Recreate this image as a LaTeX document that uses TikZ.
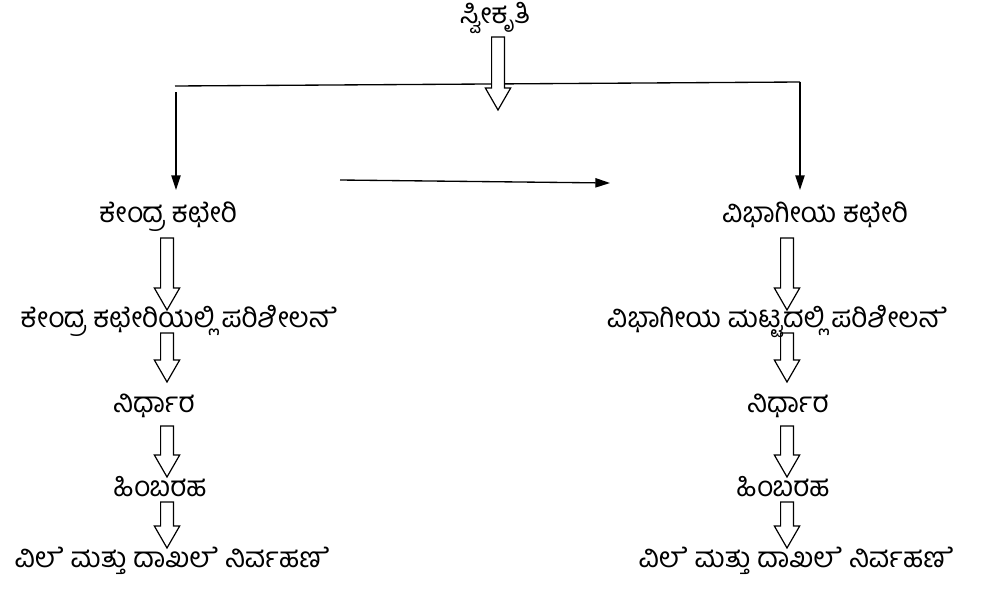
\documentclass[tikz,border=0pt]{standalone}
\usepackage{fontspec}
\newfontfamily\kanfont[Script=Kannada]{Hind Mysuru}
\newfontfamily\kanefont[Script=Kannada,RawFeature=-pres]{Hind Mysuru}
\newcommand\esyl[1]{{\kanefont #1}}
\usetikzlibrary{arrows.meta,calc}
\tikzset{
  lbl/.style={font=\kanfont\fontsize{21}{24}\selectfont, inner sep=0pt, anchor=center},
  thin/.style={line width=1pt, -{Triangle[length=11pt,width=7pt]}},
  plain/.style={line width=1pt},
  fat/.style={line width=0.9pt, draw=black, fill=white},
}
\newcommand\fatarr[2]{%
  \path[fat] let \p1=(#1), \p2=(#2) in
    (\x1-4.8pt,\y1) -- (\x1-4.8pt,\y2+16.5pt) -- (\x1-9.5pt,\y2+16.5pt) -- (\x1,\y2)
    -- (\x1+9.5pt,\y2+16.5pt) -- (\x1+4.8pt,\y2+16.5pt) -- (\x1+4.8pt,\y1) -- cycle;}
\begin{document}
\begin{tikzpicture}[x=0.75pt,y=-0.75pt]
\useasboundingbox (0,0) rectangle (991,589);
% thin connector lines
\coordinate (hl) at (175,86);
\coordinate (hr) at (800,82);
\coordinate (ld) at (176,92);
\coordinate (le) at (176,190);
\coordinate (re) at (800,190);
\coordinate (ms) at (340,180);
\coordinate (me) at (610,183);
\draw[plain] (hl) -- (hr);
\draw[thin] (hr) -- (re);
\draw[thin] (ld) -- (le);
\draw[thin] (ms) -- (me);
% fat arrow coordinates
\coordinate (t0) at (498,37);   \coordinate (h0) at (498,110);
\coordinate (l1) at (167,238);  \coordinate (l1e) at (167,310);
\coordinate (l2) at (167,333);  \coordinate (l2e) at (167,382);
\coordinate (l3) at (167,426);  \coordinate (l3e) at (167,477);
\coordinate (l4) at (167,502);  \coordinate (l4e) at (167,548);
\coordinate (r1) at (787,238);  \coordinate (r1e) at (787,310);
\coordinate (r2) at (787,333);  \coordinate (r2e) at (787,382);
\coordinate (r3) at (787,426);  \coordinate (r3e) at (787,477);
\coordinate (r4) at (787,502);  \coordinate (r4e) at (787,548);
\fatarr{t0}{h0}
\fatarr{l1}{l1e}\fatarr{l2}{l2e}\fatarr{l3}{l3e}\fatarr{l4}{l4e}
\fatarr{r1}{r1e}\fatarr{r2}{r2e}\fatarr{r3}{r3e}\fatarr{r4}{r4e}
% text nodes
\node[lbl] (top) at (495,18) {ಸ್ವೀಕೃತಿ};
\node[lbl] (k1) at (168,217) {ಕೇಂದ್ರ ಕಛೇರಿ};
\node[lbl] (k2) at (179,321) {ಕೇಂದ್ರ ಕಛೇರಿಯಲ್ಲಿ ಪರಿಶೀಲ\esyl{ನೆ}};
\node[lbl] (k3) at (154,406) {ನಿರ್ಧಾರ};
\node[lbl] (k4) at (160,487) {ಹಿಂಬರಹ};
\node[lbl] (k5) at (172,561) {ವಿ\esyl{ಲೆ} ಮತ್ತು ದಾಖ\esyl{ಲೆ} ನಿರ್ವಹ\esyl{ಣೆ}};
\node[lbl] (v1) at (815,215) {ವಿಭಾಗೀಯ ಕಛೇರಿ};
\node[lbl] (v2) at (777,321) {ವಿಭಾಗೀಯ ಮಟ್ಟದಲ್ಲಿ ಪರಿಶೀಲ\esyl{ನೆ}};
\node[lbl] (v3) at (788,406) {ನಿರ್ಧಾರ};
\node[lbl] (v4) at (783,487) {ಹಿಂಬರಹ};
\node[lbl] (v5) at (796,561) {ವಿ\esyl{ಲೆ} ಮತ್ತು ದಾಖ\esyl{ಲೆ} ನಿರ್ವಹ\esyl{ಣೆ}};
\end{tikzpicture}
\end{document}
